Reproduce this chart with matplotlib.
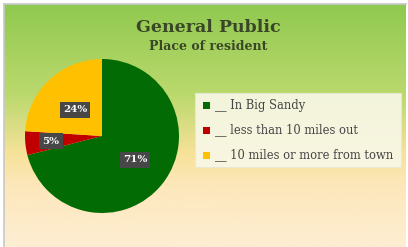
# General Public - place of resident pie chart

import numpy as np
import matplotlib.pyplot as plt
from matplotlib.colors import LinearSegmentedColormap

labels = ["__ In Big Sandy", "__ less than 10 miles out", "__ 10 miles or more from town"]
shares = [71, 5, 24]
colors = ["#036b03", "#c00000", "#ffc000"]

W, H = 408, 247
fig = plt.figure(figsize=(W / 100, H / 100), dpi=100)
fig.patch.set_facecolor("white")

# background panel with vertical gradient
bg = fig.add_axes([4 / W, 0, 402 / W, 1 - 4 / H])
grad = LinearSegmentedColormap.from_list("bg", [
    (0.0, "#8fc94f"), (0.38, "#bcd96e"), (0.62, "#f7e29a"),
    (0.75, "#fde7bb"), (1.0, "#fdeed3")])
bg.imshow(np.linspace(0, 1, 256).reshape(-1, 1), aspect="auto", cmap=grad,
          extent=[0, 1, 0, 1])
bg.set_xticks([]); bg.set_yticks([])
for s in bg.spines.values():
    s.set_color("#c8c8c8"); s.set_linewidth(1.2)
bg.spines["right"].set_visible(False); bg.spines["bottom"].set_visible(False)

fig.text(208 / W, 1 - 27 / H, "General Public", ha="center", va="center",
         family="DejaVu Serif", weight="heavy", fontsize=12.5, color="#3a4628")
fig.text(208 / W, 1 - 47 / H, "Place of resident", ha="center", va="center",
         family="DejaVu Serif", weight="heavy", fontsize=9, color="#3a4628")

# pie
cx, cy, r = 102, 136, 77
ax = fig.add_axes([(cx - r) / W, 1 - (cy + r) / H, 2 * r / W, 2 * r / H])
wedges, _ = ax.pie(shares, colors=colors, startangle=90, counterclock=False,
                   radius=1)
ax.set_xlim(-1, 1); ax.set_ylim(-1, 1); ax.set_aspect("auto")
label_pos = [(135, 160), (51, 141), (75, 110)]
for v, (px, py) in zip(shares, label_pos):
    fig.text(px / W, 1 - py / H, f"{v}%", ha="center", va="center",
             family="DejaVu Serif", weight="bold", fontsize=7.5, color="white",
             bbox=dict(boxstyle="square,pad=0.3", fc="#474747", ec="none"))

# legend
lx0, ly0, lx1, ly1 = 195, 93, 401, 167
lax = fig.add_axes([0, 0, 1, 1], facecolor="none")
lax.set_xlim(0, W); lax.set_ylim(H, 0); lax.axis("off")
lax.add_patch(plt.Rectangle((lx0, ly0), lx1 - lx0, ly1 - ly0,
                            fc="#f8f7e6", ec="#e8e8d8", lw=0.8, alpha=0.92))
rows = [105, 130, 155]
for lab, c, yy in zip(labels, colors, rows):
    lax.add_patch(plt.Rectangle((203, yy - 3.5), 7, 7, fc=c, ec="none"))
    lax.text(215, yy, lab, ha="left", va="center", family="DejaVu Serif",
             fontsize=8.3, color="#454545")

fig.savefig("out.png", dpi=100, facecolor=fig.get_facecolor())
